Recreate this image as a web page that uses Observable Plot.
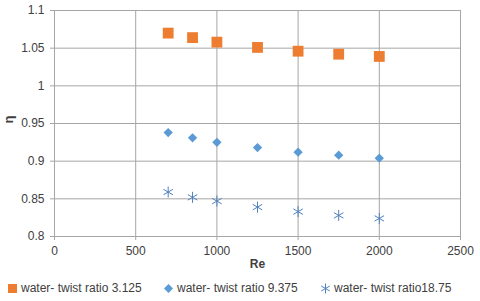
<!DOCTYPE html>
<html><head><meta charset="utf-8">
<script src="https://cdn.jsdelivr.net/npm/d3@7"></script>
<script src="https://cdn.jsdelivr.net/npm/@observablehq/plot@0.6"></script>
<style>
body{margin:0;background:#fff;font-family:"Liberation Sans",Arial,sans-serif;}
#chart svg{display:block;}
#legend{position:relative;height:23px;font-size:12px;color:#404040;}
.item{position:absolute;top:3px;display:flex;align-items:center;white-space:nowrap;}
.item svg{margin-right:3px;}
</style></head>
<body>
<div id="chart"></div>
<div id="legend"></div>
<script>
const re = [700, 850, 1000, 1250, 1500, 1750, 2000];
const series1Name = "water- twist ratio 3.125";
const series2Name = "water- twist ratio 9.375";
const series3Name = "water- twist ratio18.75";
const eta1 = [1.070, 1.064, 1.058, 1.051, 1.046, 1.042, 1.039];
const eta2 = [0.938, 0.931, 0.925, 0.918, 0.912, 0.908, 0.904];
const eta3 = [0.859, 0.852, 0.847, 0.839, 0.833, 0.828, 0.824];
const xTicks = [0, 500, 1000, 1500, 2000, 2500];
const yTicks = [0.8, 0.85, 0.9, 0.95, 1, 1.05, 1.1];

const orange = "#ED7D31", blue = "#5B9BD5", starBlue = "#4F81BD";
const d1 = re.map((x,i)=>({x, y: eta1[i]}));
const d2 = re.map((x,i)=>({x, y: eta2[i]}));
const d3s = re.map((x,i)=>({x, y: eta3[i]}));

const grid = "#a6a6a6";
const chart = Plot.plot({
  width: 480, height: 278,
  marginLeft: 54, marginRight: 20, marginTop: 10, marginBottom: 42,
  style: {fontFamily: "Liberation Sans, Arial, sans-serif", fontSize: "12px", color: "#404040", background: "#fff"},
  x: {domain: [0, 2500]},
  y: {domain: [0.8, 1.1]},
  marks: [
    Plot.gridX(xTicks, {stroke: grid, strokeOpacity: 1}),
    Plot.gridY(yTicks, {stroke: grid, strokeOpacity: 1}),
    Plot.axisX(xTicks, {tickSize: 4, tickPadding: 6, stroke: grid, label: null, tickFormat: d=>String(d)}),
    Plot.axisY(yTicks, {tickSize: 4, tickPadding: 6, stroke: grid, label: null, tickFormat: d=>String(+d.toFixed(2))}),
    Plot.ruleY([0.8], {stroke: grid}),
    Plot.ruleX([0], {stroke: grid}),
    Plot.dot(d1, {x: "x", y: "y", symbol: "square", r: 6.1, fill: orange, stroke: null}),
    Plot.dot(d2, {x: "x", y: "y", symbol: "diamond2", r: 4.2, fill: blue, stroke: null}),
    Plot.dot(d3s, {x: "x", y: "y", symbol: "asterisk", r: 5.2, stroke: starBlue, strokeWidth: 1, fill: "none"}),
    Plot.text(["Re"], {frameAnchor: "bottom", dy: 31, text: d=>d, fontWeight: "bold", fontSize: 12, fill: "#404040"}),
    Plot.text(["η"], {frameAnchor: "left", dx: -46, rotate: -90, text: d=>d, fontWeight: "bold", fontSize: 13, fill: "#404040"})
  ]
});
document.getElementById("chart").append(chart);

const legend = document.getElementById("legend");
const items = [
  {name: series1Name, left: 7, icon: `<rect x="1" y="1" width="9" height="9" fill="${orange}"/>`},
  {name: series2Name, left: 163, icon: `<path d="M5.5 1 L10 5.5 L5.5 10 L1 5.5Z" fill="${blue}"/>`},
  {name: series3Name, left: 320, icon: `<path d="M5.5 0.5V10.5M1.2 3L9.8 8M1.2 8L9.8 3" stroke="${starBlue}" stroke-width="1" fill="none"/>`}
];
for (const it of items) {
  const d = document.createElement("div");
  d.className = "item";
  d.style.left = it.left + "px";
  d.innerHTML = `<svg width="11" height="11">${it.icon}</svg><span>${it.name}</span>`;
  legend.append(d);
}
</script>
</body></html>
